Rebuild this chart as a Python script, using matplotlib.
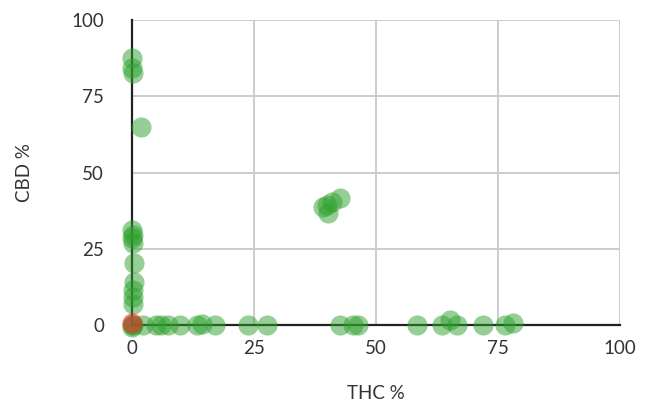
import matplotlib
matplotlib.use("Agg")
import matplotlib.pyplot as plt
import numpy as np

plt.rcParams['font.family'] = ['Lato', 'DejaVu Sans']

# green samples (THC %, CBD %)
thc_green = [0, 0, 0.2, 0, 0, 0.3, 0.2, 0.4, 0.5, 0.2, 0.3, 1.8,
             0, 0, 0.3,
             0.2, 2.3, 5, 6, 7.4, 9.8, 13.3, 14.3, 17, 23.8, 27.7,
             39.2, 39.9, 40.2, 40.9, 42.6,
             42.6, 45.3, 46.3, 58.5, 63.5, 65.2, 66.5, 72, 76.4, 78.1]
cbd_green = [87.4, 84.2, 82.8, 31, 28.5, 29.5, 27, 20.3, 14.2, 11.5, 9.2, 64.8,
             0, -0.5, 7,
             0, 0, 0, 0, 0, 0, 0, 0.3, 0, 0, 0,
             38.8, 39.3, 36.6, 40.4, 41.5,
             0, 0, 0, 0, 0, 1.5, 0, 0, 0, 0.5]

# red sample
thc_red = [0]
cbd_red = [0.7]

fig = plt.figure(figsize=(6.49, 4.01), dpi=100)
ax = fig.add_axes([0.2034, 0.1895, 0.7519, 0.7605])

ax.scatter(thc_green, cbd_green, s=210, color='#2ca02c', alpha=0.5,
           linewidths=0, clip_on=False, zorder=3)
ax.scatter(thc_red, cbd_red, s=210, color='#e8322a', alpha=0.6,
           linewidths=0, clip_on=False, zorder=4)

ax.set_xlim(0, 100)
ax.set_ylim(0, 100)
ax.set_xticks([0, 25, 50, 75, 100])
ax.set_yticks([0, 25, 50, 75, 100])
ax.grid(True, color='#cccccc', linewidth=1.4)
ax.set_axisbelow(True)

for side in ['top', 'right']:
    ax.spines[side].set_visible(False)
for side in ['left', 'bottom']:
    ax.spines[side].set_color('#222222')
    ax.spines[side].set_linewidth(1.6)
    ax.spines[side].set_zorder(2.5)

ax.tick_params(axis='both', length=0, labelsize=13.5, labelcolor='#333333')
ax.tick_params(axis='x', pad=11)
ax.tick_params(axis='y', pad=20)

ax.set_xlabel('THC %', fontsize=13.5, color='#333333', labelpad=20)
ax.set_ylabel('CBD %', fontsize=13.5, color='#333333', labelpad=28)

fig.savefig('out.png', dpi=100)
